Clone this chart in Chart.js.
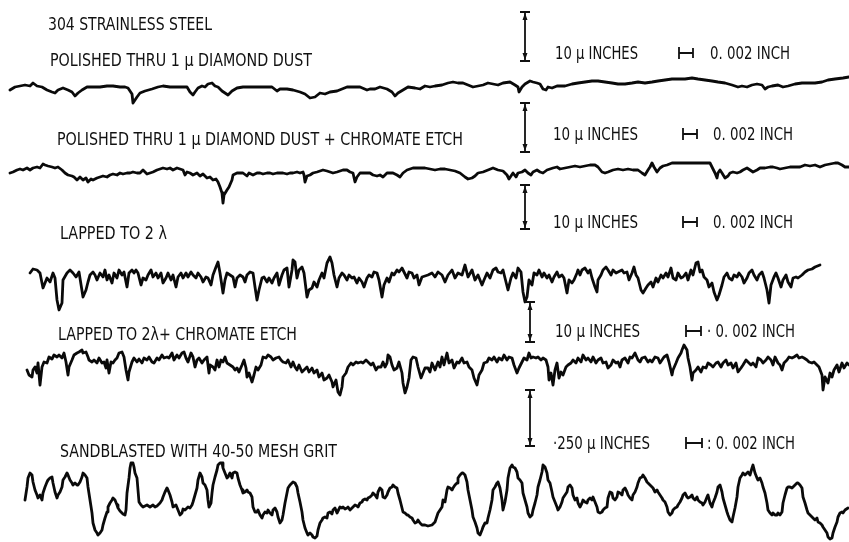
<!DOCTYPE html>
<html>
<head>
<meta charset="utf-8">
<script src="https://cdn.jsdelivr.net/npm/chart.js@4"></script>
<style>
  html, body { margin: 0; padding: 0; background: #fff; }
  #wrap { width: 849px; height: 542px; }
</style>
</head>
<body>
<div id="wrap"><canvas id="profiles" width="849" height="542"></canvas></div>
<script>
// Surface profile traces: [position, height] (height up from each trace's mean line)

// polished thru 1 micron diamond dust
var polished = [[10,-2],[15,1],[20,2],[25,3],[30,2],[33,5],[37,2],[42,1],[47,-2],[52,-4],[55,-5],[58,-2],[63,0],[68,-2],[72,-4],[75,-8],[78,-5],[82,-2],[87,1],[93,1],[100,1],[107,2],[113,2],[120,1],[125,1],[128,0],[132,-6],[133,-15],[137,-9],[140,-5],[145,-3],[152,-1],[158,1],[163,2],[170,1],[177,1],[182,1],[187,1],[190,-4],[193,-7],[195,-4],[198,0],[202,2],[205,1],[208,4],[212,5],[215,2],[218,1],[222,-3],[225,-5],[228,-7],[232,-3],[237,0],[243,1],[253,1],[263,1],[272,1],[277,-3],[280,-1],[287,-1],[293,-2],[300,-4],[305,-6],[310,-10],[315,-9],[320,-5],[325,-6],[330,-4],[337,-3],[342,-1],[347,1],[353,1],[360,1],[367,-2],[370,-1],[375,-1],[380,1],[387,-1],[392,-4],[395,-8],[398,-5],[403,-2],[408,1],[415,0],[420,-1],[425,2],[430,1],[435,2],[442,3],[448,5],[453,6],[458,5],[463,5],[468,3],[473,1],[478,2],[483,3],[488,5],[493,4],[498,3],[503,5],[510,6],[515,3],[518,1],[519,-4],[522,1],[525,4],[530,7],[533,6],[537,5],[540,4],[543,-1],[546,-2],[548,1],[552,0],[557,2],[565,2],[572,4],[578,5],[585,6],[592,7],[598,7],[605,6],[612,5],[618,4],[625,4],[632,5],[638,6],[645,5],[652,6],[658,7],[665,8],[672,9],[678,9],[685,9],[692,10],[698,9],[705,8],[712,7],[718,6],[725,5],[732,3],[738,1],[742,2],[747,1],[752,3],[757,4],[762,3],[765,-1],[768,1],[772,2],[778,3],[783,1],[788,2],[795,4],[802,5],[808,5],[815,5],[822,6],[828,8],[835,9],[843,10],[849,11]];

// polished + chromate etch
var polishedEtch = [[10,-3],[13,-2],[17,0],[20,1],[23,0],[27,2],[30,0],[33,2],[37,3],[40,2],[43,6],[45,5],[48,4],[52,3],[55,2],[58,3],[62,0],[65,-3],[68,-5],[72,-6],[74,-7],[77,-10],[80,-7],[83,-10],[86,-8],[88,-12],[91,-9],[93,-10],[97,-8],[100,-7],[103,-6],[107,-7],[110,-5],[113,-4],[117,-5],[120,-3],[123,-4],[127,-3],[130,-3],[133,-2],[137,-3],[140,-3],[143,0],[147,-4],[150,-3],[153,-2],[157,0],[160,1],[163,2],[167,1],[170,2],[173,0],[177,2],[180,1],[183,0],[185,-5],[187,-2],[190,-3],[193,-5],[197,-3],[200,-6],[203,-4],[207,-8],[210,-7],[213,-10],[216,-9],[218,-12],[220,-17],[222,-23],[223,-33],[224,-25],[227,-20],[229,-17],[232,-10],[233,-5],[237,-3],[240,-3],[243,-3],[247,-6],[249,-3],[253,-5],[257,-3],[260,-3],[263,-4],[267,-3],[270,-3],[273,-4],[277,-3],[280,-3],[283,-3],[287,-4],[290,-3],[293,-3],[297,-2],[300,-3],[303,-2],[304,-5],[305,-12],[307,-6],[310,-5],[313,-3],[317,-2],[320,-1],[323,0],[327,-1],[330,-2],[333,-3],[337,-2],[340,-1],[343,0],[347,0],[350,-2],[353,-3],[355,-12],[357,-7],[360,-3],[363,-3],[367,-3],[370,-3],[373,-5],[377,-6],[380,-5],[383,-7],[387,-3],[390,-3],[393,-3],[397,-5],[400,-7],[403,-3],[407,0],[410,1],[413,2],[420,2],[425,2],[430,1],[435,0],[440,1],[445,1],[450,0],[455,-1],[460,-3],[465,-7],[468,-9],[472,-8],[475,-6],[478,-3],[483,-2],[488,0],[493,2],[498,0],[503,-1],[507,-5],[509,-9],[511,-6],[513,-3],[516,-7],[518,-3],[522,-2],[525,0],[528,-3],[531,-5],[533,-2],[537,0],[540,-2],[543,-3],[547,0],[550,1],[553,2],[557,3],[560,1],[565,2],[570,3],[575,4],[580,3],[585,4],[590,5],[595,5],[598,3],[602,-2],[605,-3],[608,-2],[613,0],[618,1],[623,0],[628,1],[633,0],[638,0],[642,-3],[645,-5],[648,0],[650,3],[652,7],[654,3],[657,-2],[660,2],[663,4],[667,5],[672,7],[678,7],[685,7],[692,7],[698,7],[705,7],[710,7],[712,3],[715,-3],[717,-8],[718,-3],[720,0],[722,-3],[725,-8],[728,-6],[730,-3],[733,-2],[737,-3],[740,-2],[743,0],[747,2],[750,0],[753,-2],[757,0],[760,2],[765,2],[770,3],[773,3],[777,2],[780,1],[785,2],[790,3],[795,3],[800,3],[805,5],[810,4],[815,5],[820,3],[825,5],[830,6],[835,7],[838,7],[842,5],[845,3],[849,3]];

// lapped to 2 lambda
var lapped = [[30,2],[33,6],[37,5],[40,2],[43,-13],[47,-3],[50,-7],[53,2],[55,-3],[57,-25],[59,-35],[62,-28],[63,-5],[67,2],[70,5],[73,2],[76,-2],[79,3],[83,-22],[86,-15],[88,-7],[90,0],[93,3],[95,0],[97,-5],[100,2],[103,-2],[105,5],[107,-5],[109,0],[112,-8],[114,2],[117,-3],[119,5],[122,0],[124,3],[127,-12],[129,2],[132,5],[134,2],[136,5],[138,2],[141,-10],[143,-3],[146,-5],[148,0],[151,5],[153,-2],[156,2],[158,-3],[161,2],[163,-8],[166,-3],[168,2],[171,-5],[173,0],[176,-12],[178,-2],[181,2],[183,-3],[186,2],[188,-2],[191,3],[193,0],[196,-3],[198,2],[201,-2],[203,-7],[206,-2],[208,-3],[211,-10],[213,0],[216,8],[218,13],[220,2],[223,-18],[225,-5],[227,2],[230,0],[233,-2],[235,-12],[237,-3],[240,0],[243,-2],[245,-7],[247,0],[250,3],[253,2],[255,-12],[257,-25],[259,-15],[262,-3],[264,-2],[267,-7],[269,-3],[272,-8],[274,-3],[277,2],[279,-10],[282,0],[284,5],[287,7],[289,-12],[292,5],[293,15],[295,13],[297,-3],[299,5],[302,8],[304,2],[307,-22],[309,-15],[312,-13],[314,-7],[317,-12],[319,-5],[322,2],[324,-3],[327,12],[330,18],[332,12],[334,0],[337,-12],[339,-3],[342,2],[344,0],[347,-5],[349,0],[352,-3],[354,-2],[357,-8],[359,-3],[362,-7],[364,-12],[367,-3],[369,0],[372,-2],[374,3],[377,2],[379,-5],[382,-22],[384,-10],[387,-3],[389,-7],[392,2],[394,0],[397,5],[399,3],[402,7],[404,3],[407,-3],[409,3],[412,2],[414,-3],[417,0],[419,-10],[422,-2],[425,-1],[428,0],[432,2],[435,-2],[438,3],[442,0],[445,-7],[448,0],[452,5],[455,-3],[458,2],[462,0],[465,10],[468,-2],[472,5],[475,-5],[478,0],[482,-10],[484,-5],[487,2],[490,-3],[493,5],[496,7],[498,3],[501,2],[503,5],[506,-7],[508,-15],[511,-3],[513,2],[516,-3],[518,7],[521,3],[523,-17],[525,-27],[527,-22],[529,-5],[532,-10],[534,2],[537,0],[539,5],[542,-2],[544,2],[547,-3],[549,0],[552,-7],[554,-2],[557,3],[559,-2],[562,0],[564,-3],[567,-18],[569,-5],[572,-8],[574,-5],[577,2],[578,5],[580,0],[582,5],[585,7],[588,2],[590,5],[592,-3],[595,-12],[597,-17],[598,-5],[601,0],[603,5],[606,8],[608,5],[611,0],[613,5],[616,2],[618,3],[622,5],[624,2],[627,3],[629,-5],[632,2],[634,8],[636,0],[638,-3],[641,-15],[643,-18],[646,-13],[648,-10],[651,-7],[653,-12],[656,-3],[658,-7],[661,0],[663,-3],[666,2],[668,-2],[671,7],[673,-3],[676,-5],[678,2],[681,-3],[683,-2],[686,2],[688,-5],[691,5],[693,0],[696,12],[698,13],[700,3],[702,5],[704,-2],[707,-5],[709,-12],[712,-8],[714,-17],[717,-25],[719,-20],[722,-10],[724,-2],[727,2],[729,-3],[732,-5],[734,0],[737,-2],[739,2],[742,-2],[744,-8],[747,-3],[749,2],[752,5],[754,0],[757,-5],[759,0],[762,3],[764,-3],[767,-15],[769,-28],[771,-10],[774,-2],[776,2],[778,-3],[781,-12],[783,-5],[786,0],[788,-7],[791,-12],[793,-3],[796,-2],[798,-3],[802,0],[805,3],[808,5],[812,6],[815,8],[820,10]];

// lapped + chromate etch
var lappedEtch = [[27,-7],[29,-12],[32,-14],[33,-7],[35,-4],[37,-10],[38,0],[40,-22],[42,-4],[44,1],[47,0],[49,6],[52,4],[54,8],[57,6],[59,8],[62,5],[64,10],[66,1],[68,-12],[69,-4],[72,3],[74,8],[77,10],[79,11],[82,13],[83,10],[86,11],[88,6],[89,3],[92,1],[94,3],[97,0],[99,5],[102,0],[104,1],[106,-5],[107,3],[109,-10],[111,1],[113,0],[115,3],[117,5],[119,10],[122,11],[124,6],[126,-7],[128,-17],[129,-9],[132,1],[134,5],[137,1],[139,4],[142,0],[144,5],[147,3],[149,6],[152,1],[154,0],[157,5],[159,3],[162,8],[164,5],[167,6],[169,5],[172,10],[174,3],[177,8],[179,5],[182,10],[184,11],[186,5],[188,1],[191,10],[193,6],[195,-4],[197,3],[199,5],[202,0],[204,3],[207,6],[209,-10],[210,-2],[213,-4],[215,-7],[217,3],[219,-4],[221,3],[223,1],[225,6],[227,0],[230,-2],[233,-4],[235,-7],[237,-5],[239,-9],[242,-2],[244,3],[246,-5],[247,-14],[249,-10],[252,-19],[254,-12],[256,-4],[258,-7],[261,-2],[263,6],[266,5],[268,8],[271,6],[273,3],[276,5],[279,6],[281,3],[283,1],[286,0],[288,3],[291,-4],[293,1],[295,-4],[297,-7],[299,-2],[302,-9],[304,-7],[307,-4],[309,-9],[312,-5],[314,-10],[317,-7],[319,-14],[322,-10],[324,-17],[327,-15],[329,-12],[332,-19],[333,-24],[336,-17],[338,-29],[340,-32],[342,-24],[343,-14],[346,-10],[348,-4],[351,0],[353,-2],[356,1],[358,0],[361,1],[363,0],[366,3],[368,1],[371,-2],[373,0],[376,-7],[378,-4],[381,-4],[383,1],[385,-4],[387,0],[388,8],[390,6],[392,-2],[394,-7],[397,-5],[399,1],[402,-10],[403,-20],[405,-30],[407,-24],[409,-15],[411,3],[413,6],[416,5],[418,-4],[421,-15],[423,-10],[425,-5],[428,-5],[430,-9],[432,0],[435,-7],[438,1],[440,-4],[442,6],[444,-2],[447,10],[449,0],[452,3],[454,-5],[457,1],[459,0],[462,5],[464,0],[467,1],[469,-4],[472,-7],[474,-15],[477,-22],[479,-12],[482,-7],[484,0],[487,1],[489,5],[492,3],[494,6],[497,1],[499,5],[502,3],[504,8],[507,3],[509,6],[512,5],[514,-2],[517,-10],[519,-5],[522,1],[524,5],[527,3],[529,10],[531,5],[533,6],[536,5],[538,6],[541,3],[543,5],[546,3],[548,-4],[549,-17],[551,-10],[553,-22],[555,-7],[557,0],[559,-15],[561,-9],[563,-12],[566,-4],[568,-2],[571,0],[573,3],[576,0],[578,5],[581,1],[583,8],[586,3],[588,5],[591,1],[593,6],[596,0],[598,3],[601,5],[603,0],[606,1],[608,-5],[611,-2],[613,3],[616,0],[618,1],[620,-4],[622,3],[625,5],[628,0],[630,6],[632,5],[635,10],[638,3],[640,1],[642,5],[645,6],[648,1],[650,3],[652,1],[655,6],[658,5],[660,0],[662,3],[664,6],[667,8],[669,1],[672,-12],[673,-7],[676,0],[678,5],[681,10],[682,13],[684,18],[687,13],[688,5],[690,-4],[692,-17],[693,-10],[696,-7],[698,-4],[701,-9],[703,-4],[706,-5],[708,0],[711,-2],[713,-4],[716,0],[718,1],[721,-4],[723,0],[726,3],[728,-2],[731,0],[733,-5],[736,0],[738,-9],[741,-5],[743,-2],[746,3],[748,1],[751,-2],[753,0],[756,-4],[758,5],[761,3],[763,0],[766,3],[768,6],[771,3],[773,-2],[775,6],[778,0],[780,-2],[782,-7],[784,0],[787,3],[789,6],[792,5],[794,6],[797,8],[799,5],[802,6],[804,5],[807,3],[809,1],[812,0],[814,1],[817,-2],[819,-4],[822,-12],[823,-27],[825,-14],[828,-20],[830,-10],[832,-14],[834,-7],[837,-2],[839,-9],[842,0],[844,-5],[847,0],[849,-2]];

// sandblasted with 40-50 mesh grit
var sandblasted = [[25,0],[27,13],[28,22],[30,27],[32,25],[33,18],[35,10],[37,5],[38,2],[40,5],[42,0],[43,7],[45,13],[47,18],[48,20],[50,22],[52,23],[53,17],[55,8],[57,2],[58,5],[60,8],[62,13],[63,20],[65,23],[67,27],[68,25],[70,20],[72,17],[73,15],[75,17],[77,15],[78,15],[80,18],[82,23],[83,27],[85,25],[87,22],[88,13],[90,0],[92,-13],[93,-23],[95,-30],[97,-33],[98,-35],[100,-33],[102,-30],[103,-25],[105,-18],[107,-12],[108,-7],[110,-3],[112,0],[113,2],[115,0],[117,-5],[118,-8],[120,-11],[122,-13],[123,-14],[125,-15],[126,-10],[127,7],[129,22],[130,32],[131,37],[133,37],[134,33],[135,27],[137,22],[138,10],[139,-2],[141,-5],[143,-7],[145,-6],[147,-5],[150,-7],[153,-5],[155,-7],[157,-6],[160,-3],[162,0],[163,3],[165,8],[167,12],[168,10],[170,5],[172,-2],[173,-7],[176,-5],[178,-10],[180,-15],[182,-13],[183,-9],[185,-10],[187,-8],[188,-7],[190,-8],[192,-5],[193,-2],[195,5],[197,12],[198,20],[200,27],[202,23],[203,17],[205,15],[207,10],[208,0],[209,-7],[211,-3],[212,7],[213,15],[215,23],[217,30],[218,35],[220,37],[222,37],[223,32],[225,27],[227,22],[228,23],[230,27],[232,22],[233,27],[235,28],[237,27],[238,22],[240,15],[242,10],[243,7],[245,8],[247,10],[248,8],[250,7],[252,3],[253,-7],[255,-12],[257,-12],[258,-10],[260,-15],[262,-18],[263,-15],[265,-12],[267,-13],[268,-10],[270,-13],[272,-15],[273,-10],[275,-8],[277,-12],[278,-17],[280,-23],[282,-20],[283,-15],[285,-3],[287,7],[288,12],[290,15],[292,17],[293,18],[295,17],[297,13],[298,7],[300,-2],[302,-12],[303,-20],[305,-28],[307,-33],[308,-35],[310,-33],[312,-35],[313,-37],[315,-38],[317,-36],[318,-30],[320,-23],[322,-20],[323,-18],[325,-17],[327,-18],[328,-13],[330,-12],[332,-14],[333,-10],[335,-8],[337,-13],[338,-11],[340,-7],[342,-8],[343,-7],[345,-9],[347,-8],[348,-7],[350,-10],[352,-8],[353,-7],[355,-5],[357,-6],[358,-7],[360,-3],[362,-2],[363,0],[365,1],[367,0],[368,2],[370,3],[372,5],[373,7],[375,5],[377,2],[378,8],[380,12],[382,10],[383,3],[385,2],[387,5],[388,8],[390,12],[392,13],[393,15],[395,13],[397,12],[398,7],[400,0],[402,-8],[403,-12],[405,-13],[407,-15],[408,-15],[410,-17],[412,-18],[413,-20],[415,-23],[417,-22],[418,-20],[420,-23],[422,-25],[425,-25],[428,-26],[432,-25],[435,-22],[438,-13],[442,-7],[443,0],[445,-2],[447,10],[448,13],[450,12],[452,10],[453,12],[455,15],[457,17],[458,22],[460,25],[462,27],[463,27],[465,25],[467,18],[468,10],[470,0],[472,-10],[473,-17],[475,-22],[477,-28],[478,-33],[480,-35],[482,-30],[483,-27],[485,-23],[487,-23],[488,-18],[490,-10],[492,0],[493,10],[495,13],[497,17],[498,18],[500,12],[502,0],[503,-10],[505,-2],[507,10],[508,22],[510,32],[512,35],[513,33],[515,32],[517,28],[518,22],[520,20],[522,17],[523,7],[525,0],[527,-7],[528,-13],[530,-17],[532,-15],[533,-10],[535,-3],[537,5],[538,13],[540,20],[542,28],[543,35],[545,33],[547,27],[548,20],[550,17],[552,8],[553,3],[555,-2],[557,-7],[558,-10],[560,-7],[562,-2],[563,2],[565,5],[567,8],[568,13],[570,15],[572,12],[573,5],[575,0],[577,2],[578,-3],[580,-7],[582,-3],[583,0],[585,-2],[587,-3],[588,0],[590,2],[592,0],[593,3],[595,-2],[597,-7],[598,-12],[600,-13],[602,-12],[603,-10],[605,-8],[607,-7],[608,2],[610,8],[612,7],[613,2],[615,0],[617,3],[618,8],[620,7],[622,5],[623,10],[625,12],[627,8],[628,5],[630,2],[632,0],[633,5],[635,8],[637,13],[638,17],[640,22],[642,23],[643,25],[645,22],[647,18],[648,17],[650,15],[652,13],[653,12],[655,8],[657,10],[658,8],[660,5],[662,2],[663,0],[665,-2],[667,-7],[668,-12],[670,-15],[672,-13],[673,-10],[675,-8],[677,-7],[678,-5],[680,-2],[682,2],[683,5],[685,7],[687,3],[688,2],[690,3],[692,5],[693,2],[695,0],[697,3],[698,0],[700,-2],[702,-3],[703,-5],[705,-2],[707,3],[708,5],[710,-3],[712,-7],[713,-3],[715,2],[717,8],[718,13],[720,15],[722,8],[723,2],[725,-5],[727,-12],[728,-15],[730,-20],[732,-22],[733,-17],[735,-8],[737,3],[738,13],[740,22],[742,25],[743,27],[745,25],[747,27],[748,28],[750,25],[752,32],[753,35],[755,27],[757,22],[758,20],[760,22],[762,17],[763,13],[765,7],[767,-3],[768,-10],[770,-13],[772,-15],[773,-13],[775,-15],[777,-15],[778,-13],[780,-15],[782,-12],[783,-3],[785,5],[787,12],[788,13],[790,13],[792,12],[793,13],[795,15],[797,17],[798,17],[800,15],[802,12],[803,3],[805,-3],[807,-10],[808,-13],[810,-15],[812,-17],[813,-18],[815,-20],[817,-18],[818,-22],[820,-23],[822,-25],[823,-27],[825,-30],[827,-33],[828,-37],[830,-39],[832,-38],[833,-33],[835,-27],[837,-22],[838,-17],[840,-13],[842,-12],[843,-13],[845,-10],[848,-8]];

// captions, vertical scales and horizontal scale
var captions = ["POLISHED THRU 1 \u03bc DIAMOND DUST", "POLISHED THRU 1 \u03bc DIAMOND DUST + CHROMATE ETCH", "LAPPED TO 2 \u03bb", "LAPPED TO 2\u03bb+ CHROMATE ETCH", "SANDBLASTED WITH 40-50 MESH GRIT"];
var vertScale = ["10 \u03bc INCHES", "10 \u03bc INCHES", "10 \u03bc INCHES", "10 \u03bc INCHES", "\u00b7250 \u03bc INCHES"];
var horizScale = ["0. 002 INCH", "0. 002 INCH", "0. 002 INCH", "\u00b7 0. 002 INCH", ": 0. 002 INCH"];
var title = "304 STRAINLESS STEEL";

// layout (figure pixels)
var traceBase = [88, 170, 275, 363, 500];
var captionPos = [[50, 66, 262], [57, 145, 406], [60, 239, 107], [58, 340, 239], [60, 457, 277]];
var vbarPos = [[525, 12, 61], [525, 103, 152], [525, 185, 229], [530, 302, 342], [530, 390, 446]];
var vtextPos = [[555, 59, 83], [553, 140, 85], [553, 228, 85], [555, 337, 85], [553, 449, 97]];
var hbarPos = [[679, 693, 59], [683, 697, 140], [683, 697, 228], [686, 701, 337], [686, 702, 449]];
var htextPos = [[710, 59, 80], [713, 140, 80], [713, 228, 80], [707, 337, 88], [707, 449, 88]];

var traces = [polished, polishedEtch, lapped, lappedEtch, sandblasted];

var datasets = traces.map(function (tr, i) {
  return {
    data: tr.map(function (p) { return { x: p[0], y: traceBase[i] - p[1] }; }),
    showLine: true,
    borderColor: '#0a0a0a',
    borderWidth: 2.8,
    pointRadius: 0,
    tension: 0,
    borderJoinStyle: 'round',
    borderCapStyle: 'round'
  };
});

// draws text, scale bars etc
var figureText = {
  id: 'figureText',
  afterDraw: function (chart) {
    var ctx = chart.ctx;
    var sx = chart.scales.x, sy = chart.scales.y;
    function px(v) { return sx.getPixelForValue(v); }
    function py(v) { return sy.getPixelForValue(v); }

    ctx.save();
    ctx.fillStyle = '#111';
    ctx.strokeStyle = '#111';
    ctx.font = "17px 'DejaVu Sans'";
    ctx.textBaseline = 'alphabetic';
    ctx.textAlign = 'left';

    ctx.fillText(title, px(48), py(30), 164);

    for (var i = 0; i < captions.length; i++) {
      var c = captionPos[i];
      ctx.fillText(captions[i], px(c[0]), py(c[1]), c[2]);

      var t = vtextPos[i];
      ctx.fillText(vertScale[i], px(t[0]), py(t[1]), t[2]);

      var h = htextPos[i];
      ctx.fillText(horizScale[i], px(h[0]), py(h[1]), h[2]);

      // vertical scale bar
      var b = vbarPos[i];
      var bx = px(b[0]), top = py(b[1]), bot = py(b[2]);
      ctx.lineWidth = 1.8;
      ctx.beginPath();
      ctx.moveTo(bx, top); ctx.lineTo(bx, bot);
      ctx.moveTo(bx - 5, top); ctx.lineTo(bx + 5, top);
      ctx.moveTo(bx - 5, bot); ctx.lineTo(bx + 5, bot);
      ctx.stroke();
      ctx.beginPath();
      ctx.moveTo(bx, top + 1); ctx.lineTo(bx - 2.5, top + 8); ctx.lineTo(bx + 2.5, top + 8);
      ctx.closePath();
      ctx.moveTo(bx, bot - 1); ctx.lineTo(bx - 2.5, bot - 8); ctx.lineTo(bx + 2.5, bot - 8);
      ctx.closePath();
      ctx.fill();

      // horizontal scale
      var hb = hbarPos[i];
      var x1 = px(hb[0]), x2 = px(hb[1]), yc = py(hb[2]) - 6;
      ctx.lineWidth = 1.8;
      ctx.beginPath();
      ctx.moveTo(x1, yc - 6); ctx.lineTo(x1, yc + 6);
      ctx.moveTo(x2, yc - 5); ctx.lineTo(x2, yc + 5);
      ctx.moveTo(x1, yc); ctx.lineTo(x2, yc);
      ctx.stroke();
    }
    ctx.restore();
  }
};

var ctx = document.getElementById('profiles').getContext('2d');
var chart = new Chart(ctx, {
  type: 'scatter',
  data: { datasets: datasets },
  options: {
    responsive: false,
    animation: false,
    layout: { padding: 0 },
    plugins: { legend: { display: false }, tooltip: { enabled: false } },
    scales: {
      x: { type: 'linear', min: 0, max: 849, display: false },
      y: { type: 'linear', min: 0, max: 542, reverse: true, display: false }
    }
  },
  plugins: [figureText]
});
</script>
</body>
</html>
